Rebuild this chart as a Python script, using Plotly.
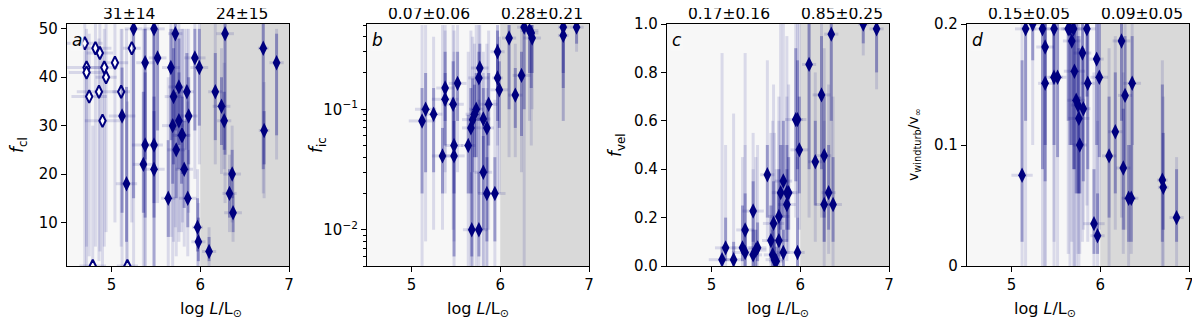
import numpy as np
import plotly.graph_objects as go
from plotly.subplots import make_subplots

# ---- panel a: clumping factor (filled = fitted, open = other sample)
a_x = [5.12, 5.17, 5.25, 5.36, 5.38, 5.38, 5.48, 5.48, 5.48, 5.52, 5.64, 5.67, 5.69, 5.70,
       5.72, 5.73, 5.76, 5.76, 5.79, 5.80, 5.82, 5.85, 5.86, 5.87, 5.94, 5.97, 5.98, 5.99,
       6.10, 6.17, 6.24, 6.27, 6.28, 6.33, 6.36, 6.37, 6.71, 6.72, 6.86]
a_y = [32, 18, 50, 22, 43, 26, 50, 26, 21, 44, 15, 42, 30, 36,
       49, 25, 38, 31, 28, 28, 21, 37, 15, 32, 44, 9, 6, 42,
       4, 37, 34, 31, 49, 16, 20, 12, 46, 29, 43]
a_lo = [12, 6, 15, 12, 23, 11, 20, 14, 11, 29, 7, 27, 18, 22,
        29, 15, 26, 21, 18, 20, 13, 25, 9, 22, 29, 4, 2, 30,
        2, 27, 26, 25, 24, 11, 15, 8, 21, 22, 28]
a_hi = [42, 38, 51, 37, 50, 41, 51, 36, 33, 50, 27, 50, 42, 46,
        51, 37, 48, 41, 38, 36, 31, 45, 25, 40, 50, 15, 11, 50,
        7, 45, 40, 37, 51, 21, 25, 16, 51, 33, 49]
a_lo2 = [1, 1, 1, 1, 1, 1, 1, 1, 1, 14, 1, 7, 1, 6,
         9, 3, 8, 6, 8, 10, 5, 15, 3, 12, 19, 1, 1, 22,
         1, 22, 20, 21, 14, 8, 10, 6, 16, 15, 23]
a_hi2 = [50, 50, 51, 50, 51, 50, 51, 50, 50, 51, 40, 51, 50, 50,
         51, 50, 51, 50, 50, 50, 50, 50, 35, 50, 51, 21, 14, 51,
         9, 51, 46, 43, 51, 24, 30, 20, 51, 39, 50]
a_xe = [0.15, 0.12, 0.10, 0.12, 0.10, 0.15, 0.12, 0.10, 0.12, 0.10, 0.08, 0.10, 0.12, 0.10,
        0.08, 0.10, 0.12, 0.10, 0.10, 0.08, 0.10, 0.08, 0.10, 0.10, 0.12, 0.06, 0.08, 0.10,
        0.08, 0.08, 0.10, 0.08, 0.10, 0.08, 0.10, 0.10, 0.06, 0.06, 0.08]

ao_x = [4.70, 4.72, 4.72, 4.75, 4.79, 4.82, 4.86, 4.87, 4.90, 4.92, 4.94, 5.04, 5.11, 5.18, 5.23]
ao_y = [47, 42, 41, 36, 1, 46, 37, 45, 31, 42, 40, 43, 37, 1, 46]
ao_lo = [1, 5, 1, 3, 1, 5, 2, 4, 1, 5, 8, 10, 5, 1, 10]
ao_hi = [51, 50, 48, 49, 30, 51, 48, 51, 45, 50, 51, 51, 50, 35, 51]
ao_xe = [0.20, 0.25, 0.20, 0.20, 0.15, 0.18, 0.25, 0.15, 0.20, 0.15, 0.12, 0.15, 0.10, 0.12, 0.10]

# ---- panel b: f_ic
b_x = [5.12, 5.16, 5.25, 5.35, 5.38, 5.38, 5.47, 5.48, 5.48, 5.52, 5.64, 5.67, 5.68, 5.69,
       5.71, 5.73, 5.76, 5.76, 5.77, 5.81, 5.81, 5.85, 5.85, 5.87, 5.94, 5.97, 5.97, 5.99,
       6.10, 6.17, 6.24, 6.27, 6.33, 6.35, 6.36, 6.71, 6.71, 6.86]
b_y = [0.080, 0.10, 0.091, 0.041, 0.150, 0.121, 0.110, 0.050, 0.041, 0.164, 0.050, 0.070, 0.010, 0.082,
       0.091, 0.100, 0.182, 0.010, 0.220, 0.083, 0.030, 0.070, 0.020, 0.110, 0.020, 0.182, 0.30, 0.145,
       0.39, 0.131, 0.191, 0.48, 0.45, 0.43, 0.39, 0.48, 0.41, 0.48]
b_lo = [0.02, 0.03, 0.03, 0.02, 0.08, 0.05, 0.05, 0.02, 0.006, 0.08, 0.02, 0.02, 0.006, 0.03,
        0.04, 0.04, 0.08, 0.006, 0.10, 0.03, 0.01, 0.03, 0.008, 0.05, 0.008, 0.08, 0.15, 0.07,
        0.10, 0.07, 0.06, 0.10, 0.20, 0.15, 0.20, 0.20, 0.15, 0.35]
b_hi = [0.15, 0.20, 0.15, 0.07, 0.30, 0.20, 0.25, 0.10, 0.08, 0.30, 0.09, 0.15, 0.03, 0.18,
        0.16, 0.20, 0.30, 0.03, 0.35, 0.15, 0.06, 0.12, 0.04, 0.20, 0.04, 0.35, 0.45, 0.25,
        0.5, 0.22, 0.30, 0.5, 0.5, 0.5, 0.5, 0.5, 0.5, 0.5]
b_lo2 = [0.005, 0.008, 0.01, 0.01, 0.03, 0.02, 0.01, 0.008, 0.005, 0.03, 0.005, 0.005, 0.005, 0.005,
         0.01, 0.005, 0.02, 0.005, 0.03, 0.005, 0.005, 0.005, 0.005, 0.01, 0.005, 0.02, 0.05, 0.02,
         0.04, 0.04, 0.03, 0.005, 0.08, 0.05, 0.10, 0.08, 0.08, 0.30]
b_hi2 = [0.5, 0.5, 0.4, 0.5, 0.5, 0.45, 0.5, 0.45, 0.3, 0.5, 0.3, 0.45, 0.10, 0.4,
         0.35, 0.5, 0.5, 0.12, 0.5, 0.3, 0.2, 0.35, 0.15, 0.45, 0.12, 0.5, 0.5, 0.4,
         0.5, 0.35, 0.5, 0.5, 0.5, 0.5, 0.5, 0.5, 0.5, 0.5]
b_xe = [0.15, 0.12, 0.10, 0.12, 0.10, 0.15, 0.12, 0.10, 0.12, 0.10, 0.08, 0.10, 0.10, 0.12,
        0.10, 0.08, 0.12, 0.10, 0.10, 0.08, 0.10, 0.08, 0.10, 0.10, 0.12, 0.06, 0.08, 0.10,
        0.08, 0.08, 0.10, 0.08, 0.10, 0.08, 0.10, 0.06, 0.06, 0.08]

# ---- panel c: f_vel
c_x = [5.12, 5.16, 5.25, 5.35, 5.38, 5.38, 5.47, 5.47, 5.50, 5.52, 5.63, 5.67, 5.69, 5.70,
       5.71, 5.73, 5.76, 5.76, 5.78, 5.81, 5.81, 5.85, 5.87, 5.85, 5.95, 5.97, 5.97, 5.99,
       6.10, 6.17, 6.24, 6.27, 6.27, 6.32, 6.37, 6.35, 6.71, 6.86]
c_y = [0.026, 0.075, 0.026, 0.075, 0.149, 0.056, 0.227, 0.046, 0.066, 0.075, 0.377, 0.105, 0.046, 0.176,
       0.026, 0.020, 0.205, 0.105, 0.303, 0.056, 0.351, 0.303, 0.303, 0.254, 0.605, 0.605, 0.056, 0.480,
       0.833, 0.431, 0.707, 0.456, 0.254, 0.303, 0.254, 0.958, 1.0, 0.98]
c_lo = [0.0, 0.02, 0.0, 0.02, 0.05, 0.0, 0.10, 0.0, 0.0, 0.02, 0.20, 0.03, 0.0, 0.05,
        0.0, 0.0, 0.08, 0.03, 0.15, 0.0, 0.20, 0.15, 0.15, 0.10, 0.35, 0.40, 0.0, 0.30,
        0.40, 0.25, 0.40, 0.20, 0.10, 0.15, 0.10, 0.60, 0.92, 0.80]
c_hi = [0.08, 0.20, 0.10, 0.25, 0.30, 0.15, 0.35, 0.15, 0.15, 0.18, 0.50, 0.25, 0.15, 0.35,
        0.10, 0.08, 0.40, 0.30, 0.50, 0.15, 0.60, 0.50, 0.45, 0.40, 0.90, 0.85, 0.20, 0.70,
        1.0, 0.60, 0.95, 0.70, 0.45, 0.50, 0.45, 1.0, 1.0, 1.0]
c_lo2 = [0.0, 0.0, 0.0, 0.0, 0.0, 0.0, 0.0, 0.0, 0.0, 0.0, 0.10, 0.0, 0.0, 0.0,
         0.0, 0.0, 0.0, 0.0, 0.05, 0.0, 0.10, 0.05, 0.05, 0.02, 0.20, 0.20, 0.0, 0.15,
         0.20, 0.10, 0.20, 0.10, 0.0, 0.05, 0.0, 0.30, 0.87, 0.73]
c_hi2 = [0.88, 0.50, 0.63, 0.45, 0.88, 0.50, 0.55, 0.40, 0.45, 0.50, 0.85, 0.55, 0.60, 0.75,
         0.55, 0.40, 0.70, 0.60, 1.0, 0.50, 1.0, 0.95, 0.75, 0.70, 1.0, 1.0, 0.45, 1.0,
         1.0, 0.80, 1.0, 0.90, 0.60, 0.75, 0.70, 1.0, 1.0, 1.0]
c_xe = [0.15, 0.12, 0.10, 0.12, 0.10, 0.15, 0.12, 0.10, 0.12, 0.10, 0.08, 0.10, 0.10, 0.12,
        0.10, 0.08, 0.12, 0.10, 0.10, 0.08, 0.10, 0.08, 0.10, 0.10, 0.12, 0.06, 0.08, 0.10,
        0.08, 0.08, 0.10, 0.08, 0.10, 0.08, 0.10, 0.08, 0.06, 0.08]

# ---- panel d: v_windturb / v_inf
d_x = [5.12, 5.16, 5.24, 5.35, 5.38, 5.38, 5.48, 5.48, 5.52, 5.64, 5.66, 5.68, 5.70, 5.71,
       5.73, 5.75, 5.76, 5.77, 5.80, 5.81, 5.85, 5.86, 5.93, 5.96, 5.97, 5.99, 6.10, 6.17,
       6.24, 6.26, 6.28, 6.32, 6.35, 6.36, 6.70, 6.71, 6.86]
d_y = [0.075, 0.196, 0.2, 0.196, 0.181, 0.151, 0.196, 0.156, 0.156, 0.196, 0.196, 0.186, 0.196, 0.161,
       0.137, 0.133, 0.122, 0.100, 0.176, 0.130, 0.196, 0.151, 0.035, 0.171, 0.025, 0.156, 0.091, 0.111,
       0.186, 0.081, 0.141, 0.056, 0.056, 0.151, 0.071, 0.065, 0.040]
d_lo = [0.02, 0.12, 0.17, 0.08, 0.10, 0.07, 0.15, 0.10, 0.09, 0.12, 0.10, 0.10, 0.08, 0.08,
        0.06, 0.06, 0.06, 0.06, 0.10, 0.07, 0.14, 0.08, 0.01, 0.10, 0.01, 0.09, 0.04, 0.06,
        0.12, 0.03, 0.08, 0.02, 0.02, 0.10, 0.02, 0.03, 0.02]
d_hi = [0.17, 0.2, 0.2, 0.2, 0.2, 0.2, 0.2, 0.2, 0.2, 0.2, 0.2, 0.2, 0.2, 0.2,
        0.2, 0.19, 0.18, 0.14, 0.2, 0.18, 0.2, 0.2, 0.08, 0.2, 0.06, 0.2, 0.14, 0.16,
        0.2, 0.13, 0.19, 0.10, 0.10, 0.19, 0.15, 0.11, 0.08]
d_lo2 = [0.0, 0.0, 0.10, 0.0, 0.0, 0.0, 0.02, 0.0, 0.0, 0.01, 0.0, 0.02, 0.0, 0.0,
         0.0, 0.01, 0.0, 0.01, 0.02, 0.03, 0.05, 0.02, 0.0, 0.02, 0.0, 0.03, 0.0, 0.03,
         0.04, 0.01, 0.03, 0.0, 0.01, 0.06, 0.0, 0.0, 0.0]
d_hi2 = [0.2, 0.2, 0.2, 0.2, 0.2, 0.2, 0.2, 0.2, 0.2, 0.2, 0.2, 0.2, 0.2, 0.2,
         0.2, 0.2, 0.2, 0.19, 0.2, 0.2, 0.2, 0.2, 0.16, 0.2, 0.12, 0.2, 0.18, 0.19,
         0.2, 0.16, 0.2, 0.14, 0.15, 0.2, 0.17, 0.14, 0.09]
d_xe = [0.12, 0.12, 0.10, 0.12, 0.10, 0.08, 0.12, 0.10, 0.10, 0.08, 0.08, 0.10, 0.10, 0.12,
        0.10, 0.08, 0.12, 0.08, 0.10, 0.08, 0.10, 0.08, 0.12, 0.08, 0.08, 0.10, 0.08, 0.08,
        0.10, 0.08, 0.08, 0.08, 0.08, 0.10, 0.06, 0.06, 0.08]

# top labels: mean +- std for logL<6 and logL>6
top_lbl = [("31±14", "24±15"), ("0.07±0.06", "0.28±0.21"),
           ("0.17±0.16", "0.85±0.25"), ("0.15±0.05", "0.09±0.05")]
panel_letters = ["a", "b", "c", "d"]
y_titles = ["<i>f</i><sub>cl</sub>", "<i>f</i><sub>ic</sub>", "<i>f</i><sub>vel</sub>",
            "v<sub>windturb</sub>/v<sub>∞</sub>"]
x_title = "log <i>L</i>/L<sub>⊙</sub>"

NAVY = "#00007f"
INNER = "rgba(0,0,128,0.30)"
OUTER = "rgba(0,0,128,0.12)"
HOR = "rgba(0,0,128,0.13)"
FONT = "DejaVu Sans"

fig = make_subplots(rows=1, cols=4)


def add_panel(col, x, y, lo, hi, lo2, hi2, xe, open_marker=False):
    x = np.array(x); y = np.array(y)
    lo = np.array(lo); hi = np.array(hi)
    if lo2 is not None:
        lo2 = np.array(lo2); hi2 = np.array(hi2)
        fig.add_trace(go.Scatter(
            x=x, y=y, mode="markers", marker=dict(size=1, color="rgba(0,0,0,0)"),
            error_y=dict(type="data", symmetric=False, array=hi2 - y, arrayminus=y - lo2,
                         color=OUTER, thickness=3, width=0),
            hoverinfo="skip", showlegend=False), row=1, col=col)
    fig.add_trace(go.Scatter(
        x=x, y=y, mode="markers", marker=dict(size=1, color="rgba(0,0,0,0)"),
        error_y=dict(type="data", symmetric=False, array=hi - y, arrayminus=y - lo,
                     color=INNER if lo2 is not None else OUTER, thickness=3, width=0),
        error_x=dict(type="data", array=xe, color=HOR, thickness=3, width=0),
        hoverinfo="skip", showlegend=False), row=1, col=col)
    if open_marker:
        mk = dict(symbol="diamond-tall", size=9, color="white", line=dict(color=NAVY, width=2))
    else:
        mk = dict(symbol="diamond-tall", size=11, color=NAVY, line=dict(width=0))
    fig.add_trace(go.Scatter(x=x, y=y, mode="markers", marker=mk,
                             hoverinfo="skip", showlegend=False), row=1, col=col)


add_panel(1, ao_x, ao_y, ao_lo, ao_hi, None, None, ao_xe, open_marker=True)
add_panel(1, a_x, a_y, a_lo, a_hi, a_lo2, a_hi2, a_xe)
add_panel(2, b_x, b_y, b_lo, b_hi, b_lo2, b_hi2, b_xe)
add_panel(3, c_x, c_y, c_lo, c_hi, c_lo2, c_hi2, c_xe)
add_panel(4, d_x, d_y, d_lo, d_hi, d_lo2, d_hi2, d_xe)

# page body adds an 8px margin, so the figure is drawn 8px in from the top-left
W, H = 1192, 313
lefts = [59, 359, 659, 959]
pw = 222
ydom = [1 - 258 / H, 1 - 16 / H]
ytitle_x = [10, 309, 608, 906]

ax_common = dict(showline=True, linecolor="black", linewidth=1.2, mirror=True, automargin=False,
                 ticks="outside", ticklen=5, tickcolor="black", showgrid=False,
                 zeroline=False, ticklabeloverflow="allow",
                 tickfont=dict(size=15, color="black", family=FONT))

for i in range(4):
    xn = "xaxis" if i == 0 else f"xaxis{i + 1}"
    yn = "yaxis" if i == 0 else f"yaxis{i + 1}"
    fig.layout[xn].update(domain=[lefts[i] / W, (lefts[i] + pw) / W], range=[4.5, 7],
                          tickvals=[5, 6, 7], **ax_common)
    fig.layout[yn].update(domain=ydom, **ax_common)
    xr = "x" if i == 0 else f"x{i + 1}"
    yr = "y" if i == 0 else f"y{i + 1}"
    # background bands
    fig.add_shape(type="rect", xref=xr, yref=f"{yr} domain", x0=4.5, x1=6, y0=0, y1=1,
                  fillcolor="#f7f7f7", line=dict(width=0), layer="below")
    fig.add_shape(type="rect", xref=xr, yref=f"{yr} domain", x0=6, x1=7, y0=0, y1=1,
                  fillcolor="#d9d9d9", line=dict(width=0), layer="below")
    for xv, txt in zip([5.2, 6.47], top_lbl[i]):
        fig.add_annotation(x=xv, y=1 - 6 / H, xref=xr, yref="paper", text=txt,
                           yanchor="middle", showarrow=False,
                           font=dict(size=15.5, family=FONT, color="black"))
    fig.add_annotation(x=0.015, y=0.985, xref=f"{xr} domain", yref=f"{yr} domain",
                       xanchor="left", yanchor="top", text=f"<i>{panel_letters[i]}</i>",
                       showarrow=False, bgcolor="rgba(247,247,247,0.8)",
                       font=dict(size=17, family=FONT, color="black"))
    # axis titles
    fig.add_annotation(x=(lefts[i] + pw / 2) / W, y=1 - 301 / H, xref="paper", yref="paper",
                       text=x_title, showarrow=False, yanchor="middle",
                       font=dict(size=16, family=FONT, color="black"))
    fig.add_annotation(x=ytitle_x[i] / W, y=1 - 137 / H, xref="paper", yref="paper",
                       text=y_titles[i], showarrow=False, textangle=-90,
                       xanchor="center", yanchor="middle",
                       font=dict(size=14 if i == 3 else 17, family=FONT, color="black"))

fig.layout.yaxis.update(range=[1, 51], tickvals=[10, 20, 30, 40, 50])
fig.layout.yaxis2.update(type="log", range=[np.log10(0.005), np.log10(0.51)],
                         tickvals=[0.01, 0.1], ticktext=["10<sup>−2</sup>", "10<sup>−1</sup>"],
                         minor=dict(ticks="outside", ticklen=3, tickcolor="black",
                                    tickvals=[0.005, 0.006, 0.007, 0.008, 0.009, 0.02, 0.03, 0.04,
                                              0.05, 0.06, 0.07, 0.08, 0.09, 0.2, 0.3, 0.4, 0.5]))
fig.layout.yaxis3.update(range=[0, 1], tickvals=[0, 0.2, 0.4, 0.6, 0.8, 1.0], tickformat=".1f")
fig.layout.yaxis4.update(range=[0, 0.2], tickvals=[0, 0.1, 0.2], ticktext=["0", "0.1", "0.2"])

fig.update_layout(width=W, height=H, margin=dict(l=0, r=0, t=0, b=0),
                  plot_bgcolor="white", paper_bgcolor="white",
                  font=dict(family=FONT, color="black"))

fig.write_html("out.html")
